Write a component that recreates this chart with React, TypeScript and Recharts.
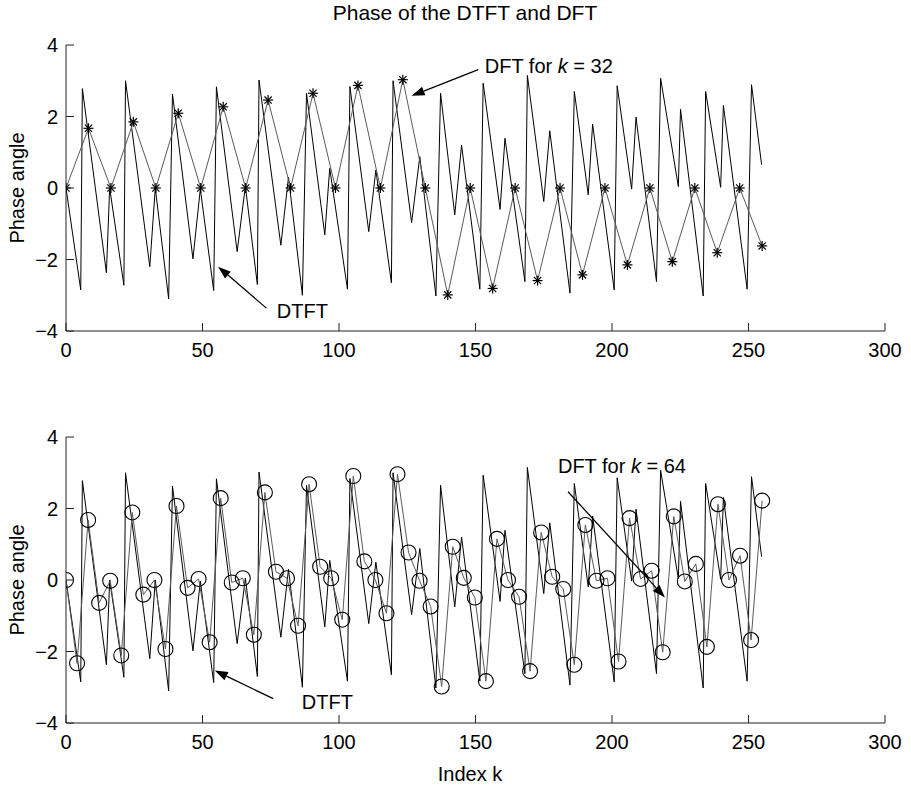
import React from "react";
import { Line, LineChart, ReferenceDot, ReferenceLine, XAxis, YAxis } from "recharts";

const X_TICKS = [0, 50, 100, 150, 200, 250, 300];
const Y_TICKS = [-4, -2, 0, 2, 4];

// corners of the DTFT phase curve (index k, phase)
const dtftK = [
  0, 5.4, 6.0, 14.8, 16.0, 21.2, 21.8, 30.7, 32.7, 37.6, 39.0, 46.5, 49.2, 54.1, 55.1, 62.7,
  65.7, 70.1, 70.7, 78.7, 81.5, 86.6, 88.1, 94.8, 96.6, 103.1, 104.0, 110.9, 113.5, 119.2,
  119.8, 126.6, 129.6, 135.5, 137.2, 142.4, 144.9, 151.6, 152.8, 159.0, 160.8, 168.1, 169.0,
  175.0, 177.2, 184.6, 186.2, 191.3, 192.9, 200.8, 201.9, 207.2, 208.8, 216.3, 217.8, 224.3,
  225.1, 233.4, 234.3, 239.8, 240.8, 249.5, 251.1, 254.8,
];
const dtftPhase = [
  0, -2.85, 2.78, -2.37, 0, -2.72, 3.0, -2.2, 0, -3.1, 2.63, -1.98, -0.03, -2.87, 2.83, -1.78,
  0.05, -2.7, 3.02, -1.6, 0.3, -3.0, 2.65, -1.31, 0.55, -2.83, 2.84, -1.22, 0.5, -2.65, 3.0,
  -0.97, 0.88, -3.02, 2.65, -0.75, 1.2, -2.83, 2.93, -0.6, 1.39, -2.62, 3.15, -0.38, 1.6,
  -2.94, 2.7, -0.19, 1.79, -2.85, 2.86, -0.03, 1.98, -2.62, 3.07, 0.04, 2.2, -3.02, 2.7,
  0.02, 2.31, -2.83, 2.89, 0.65,
];

// DFT phases, k = 32 and k = 64 points spread over 0..255
const dft32Phase = [
  0, 1.67, 0, 1.85, 0, 2.09, 0, 2.27, 0, 2.46, 0, 2.65, 0, 2.87, 0, 3.03, 0, -2.99, 0, -2.81,
  0, -2.59, 0, -2.43, 0, -2.15, 0, -2.06, 0, -1.81, 0, -1.62,
];
const dft64Phase = [
  0, -2.33, 1.68, -0.64, -0.02, -2.11, 1.89, -0.41, 0, -1.93, 2.07, -0.22, 0.03, -1.74, 2.29,
  -0.07, 0.05, -1.53, 2.45, 0.23, 0.05, -1.28, 2.68, 0.37, 0.05, -1.11, 2.91, 0.52, 0, -0.93,
  2.96, 0.77, -0.02, -0.74, -2.98, 0.93, 0.06, -0.49, -2.83, 1.15, 0, -0.47, -2.55, 1.33, 0.09,
  -0.25, -2.37, 1.54, -0.02, 0.05, -2.28, 1.73, 0.03, 0.26, -2.02, 1.78, -0.04, 0.45, -1.87,
  2.12, 0, 0.68, -1.68, 2.22,
];

const dtft = dtftK.map((k, i) => ({ k, phase: dtftPhase[i] }));
const dft32 = dft32Phase.map((phase, i) => ({ k: (i * 255) / 31, phase }));
const dft64 = dft64Phase.map((phase, i) => ({ k: (i * 255) / 63, phase }));

const FONT = "'Liberation Sans', Arial, Helvetica, sans-serif";
const TICK = 8;
const W = 911;
const H = 370;
const fmt = (v: number) => (v < 0 ? `\u2212${-v}` : `${v}`);

const BottomTick = ({ x, y, payload }: any) => (
  <g>
    <line x1={x} y1={y} x2={x} y2={y - TICK} stroke="#222" />
    <text x={x} y={y + 26} textAnchor="middle" fontSize={20} fontFamily={FONT} fill="#000">
      {payload.value}
    </text>
  </g>
);
const TopTick = ({ x, y }: any) => <line x1={x} y1={y} x2={x} y2={y + TICK} stroke="#222" />;
const LeftTick = ({ x, y, payload }: any) => (
  <g>
    <line x1={x} y1={y} x2={x + TICK} y2={y} stroke="#222" />
    <text x={x - 8} y={y + 7} textAnchor="end" fontSize={20} fontFamily={FONT} fill="#000">
      {fmt(payload.value)}
    </text>
  </g>
);
const RightTick = ({ x, y }: any) => <line x1={x} y1={y} x2={x - TICK} y2={y} stroke="#222" />;

const Asterisk = ({ cx, cy }: any) => {
  if (cx == null || cy == null) return null;
  const r = 5;
  const d = 3.6;
  return (
    <g stroke="#000" strokeWidth={1.2}>
      <line x1={cx - r} y1={cy} x2={cx + r} y2={cy} />
      <line x1={cx} y1={cy - r} x2={cx} y2={cy + r} />
      <line x1={cx - d} y1={cy - d} x2={cx + d} y2={cy + d} />
      <line x1={cx - d} y1={cy + d} x2={cx + d} y2={cy - d} />
    </g>
  );
};
const Ring = ({ cx, cy }: any) =>
  cx == null || cy == null ? null : (
    <circle cx={cx} cy={cy} r={7.5} fill="none" stroke="#000" strokeWidth={1.1} />
  );

const Arrow = ({ x1, y1, x2, y2 }: any) => {
  const a = Math.atan2(y2 - y1, x2 - x1);
  const L = 13;
  const w = 4.5;
  const bx = x2 - L * Math.cos(a);
  const by = y2 - L * Math.sin(a);
  const px = -Math.sin(a) * w;
  const py = Math.cos(a) * w;
  return (
    <g>
      <line x1={x1} y1={y1} x2={bx} y2={by} stroke="#000" strokeWidth={1.3} />
      <polygon points={`${x2},${y2} ${bx + px},${by + py} ${bx - px},${by - py}`} fill="#000" />
    </g>
  );
};

const Note = ({ cx, cy, pre, k }: any) => (
  <text x={cx} y={cy} fontSize={20} fontFamily={FONT} fill="#000">
    {pre}
    {k != null && (
      <>
        {" for "}
        <tspan fontStyle="italic">k</tspan>
        {` = ${k}`}
      </>
    )}
  </text>
);

function Panel({
  dft,
  marker,
  dftArrow,
  dftText,
  dtftArrow,
  dtftText,
  k,
}: {
  dft: { k: number; phase: number }[];
  marker: any;
  dftArrow: number[];
  dftText: number[];
  dtftArrow: number[];
  dtftText: number[];
  k: number;
}) {
  return (
    <LineChart width={W} height={H} margin={{ top: 45, right: 26, left: 26, bottom: 9 }}>
      <XAxis
        type="number"
        dataKey="k"
        domain={[0, 300]}
        ticks={X_TICKS}
        allowDataOverflow
        height={30}
        stroke="#222"
        tickSize={0}
        tickMargin={0}
        tickLine={false}
        tick={<BottomTick />}
      />
      <XAxis
        xAxisId="top"
        orientation="top"
        type="number"
        dataKey="k"
        domain={[0, 300]}
        ticks={X_TICKS}
        height={0}
        stroke="#222"
        tickSize={0}
        tickMargin={0}
        tickLine={false}
        tick={<TopTick />}
      />
      <YAxis
        type="number"
        domain={[-4, 4]}
        ticks={Y_TICKS}
        allowDataOverflow
        width={40}
        stroke="#222"
        tickSize={0}
        tickMargin={0}
        tickLine={false}
        tick={<LeftTick />}
      />
      <YAxis
        yAxisId="right"
        orientation="right"
        type="number"
        domain={[-4, 4]}
        ticks={Y_TICKS}
        width={0}
        stroke="#222"
        tickSize={0}
        tickMargin={0}
        tickLine={false}
        tick={<RightTick />}
      />
      <Line
        data={dtft}
        dataKey="phase"
        type="linear"
        stroke="#000"
        strokeWidth={1}
        dot={false}
        activeDot={false}
        isAnimationActive={false}
      />
      <Line
        data={dft}
        dataKey="phase"
        type="linear"
        stroke="#5a5a5a"
        strokeWidth={1}
        dot={marker}
        activeDot={false}
        isAnimationActive={false}
      />
      <ReferenceLine
        segment={[
          { x: dftArrow[0], y: dftArrow[1] },
          { x: dftArrow[2], y: dftArrow[3] },
        ]}
        shape={(p: any) => <Arrow {...p} />}
      />
      <ReferenceLine
        segment={[
          { x: dtftArrow[0], y: dtftArrow[1] },
          { x: dtftArrow[2], y: dtftArrow[3] },
        ]}
        shape={(p: any) => <Arrow {...p} />}
      />
      <ReferenceDot x={dftText[0]} y={dftText[1]} r={0} shape={(p: any) => <Note {...p} pre="DFT" k={k} />} />
      <ReferenceDot x={dtftText[0]} y={dtftText[1]} r={0} shape={(p: any) => <Note {...p} pre="DTFT" />} />
    </LineChart>
  );
}

export default function App() {
  return (
    <div style={{ position: "absolute", left: 0, top: 0, width: W, height: 790, background: "#fff" }}>
      <div style={{ position: "absolute", left: 0, top: 0 }}>
        <Panel
          dft={dft32}
          marker={<Asterisk />}
          k={32}
          dftArrow={[151.0, 3.31, 126.6, 2.58]}
          dftText={[153.4, 3.22]}
          dtftArrow={[73.4, -3.36, 55.7, -2.2]}
          dtftText={[77.2, -3.64]}
        />
      </div>
      <div style={{ position: "absolute", left: 0, top: 392 }}>
        <Panel
          dft={dft64}
          marker={<Ring />}
          k={64}
          dftArrow={[183.9, 2.47, 219.4, -0.49]}
          dftText={[180.2, 3.0]}
          dtftArrow={[75.9, -3.32, 54.5, -2.53]}
          dtftText={[86.4, -3.62]}
        />
      </div>
      <div
        style={{
          position: "absolute",
          left: 0,
          width: 930,
          top: 1,
          textAlign: "center",
          fontFamily: FONT,
          fontSize: 21,
        }}
      >
        Phase of the DTFT and DFT
      </div>
      <div
        style={{
          position: "absolute",
          left: 0,
          width: 940,
          top: 763,
          textAlign: "center",
          fontFamily: FONT,
          fontSize: 20,
        }}
      >
        Index k
      </div>
      {[188, 580].map((cy) => (
        <div
          key={cy}
          style={{
            position: "absolute",
            left: 17 - 100,
            top: cy - 12,
            width: 200,
            textAlign: "center",
            transform: "rotate(-90deg)",
            fontFamily: FONT,
            fontSize: 20,
            lineHeight: "24px",
          }}
        >
          Phase angle
        </div>
      ))}
    </div>
  );
}
